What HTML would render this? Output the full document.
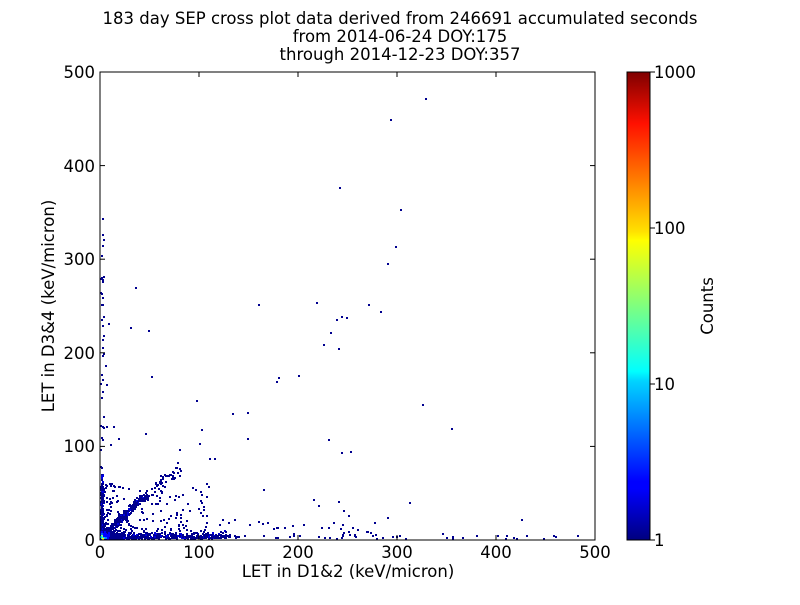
<!DOCTYPE html>
<html><head><meta charset="utf-8"><style>
html,body{margin:0;padding:0;background:#fff}
svg text{font-family:"DejaVu Sans","Liberation Sans",sans-serif;fill:#000}
</style></head><body>
<svg id="s" width="800" height="600" xmlns="http://www.w3.org/2000/svg">
<defs>
<linearGradient id="jet" x1="0" y1="1" x2="0" y2="0">
<stop offset="0" stop-color="#00007f"/>
<stop offset="0.11" stop-color="#0000ff"/>
<stop offset="0.125" stop-color="#0000ff"/>
<stop offset="0.34" stop-color="#00d4ff"/>
<stop offset="0.36" stop-color="#0ff"/>
<stop offset="0.5" stop-color="#7fff7f"/>
<stop offset="0.64" stop-color="#ff0"/>
<stop offset="0.66" stop-color="#ffe000"/>
<stop offset="0.89" stop-color="#ff1000"/>
<stop offset="1" stop-color="#7f0000"/>
</linearGradient>
</defs>
<rect width="800" height="600" fill="#fff"/>
<text x="400" y="24" font-size="16.5" text-anchor="middle">183 day SEP cross plot data derived from 246691 accumulated seconds</text>
<text x="400" y="42" font-size="16.5" text-anchor="middle">from 2014-06-24 DOY:175</text>
<text x="400" y="60" font-size="16.5" text-anchor="middle">through 2014-12-23 DOY:357</text>
<g id="pts"></g>
<rect x="100" y="72" width="495" height="468" fill="none" stroke="#000" stroke-width="1"/>
<g id="ax" stroke="#000" stroke-width="1"></g>
<g font-size="16.5">
<text x="100" y="558" text-anchor="middle">0</text>
<text x="199" y="558" text-anchor="middle">100</text>
<text x="298" y="558" text-anchor="middle">200</text>
<text x="397" y="558" text-anchor="middle">300</text>
<text x="496" y="558" text-anchor="middle">400</text>
<text x="595" y="558" text-anchor="middle">500</text>
<text x="95" y="546" text-anchor="end">0</text>
<text x="95" y="452" text-anchor="end">100</text>
<text x="95" y="359" text-anchor="end">200</text>
<text x="95" y="265" text-anchor="end">300</text>
<text x="95" y="172" text-anchor="end">400</text>
<text x="95" y="78" text-anchor="end">500</text>
</g>
<text x="348" y="577" font-size="16.5" text-anchor="middle">LET in D1&amp;2 (keV/micron)</text>
<text transform="translate(54,306) rotate(-90)" font-size="16.5" text-anchor="middle">LET in D3&amp;4 (keV/micron)</text>
<rect x="627" y="72" width="23" height="468" fill="url(#jet)" stroke="#000"/>
<g stroke="#000"><line x1="650" y1="540" x2="655" y2="540"/><line x1="650" y1="384" x2="655" y2="384"/><line x1="650" y1="228" x2="655" y2="228"/><line x1="650" y1="72" x2="655" y2="72"/></g>
<g font-size="16.5">
<text x="654" y="546">1</text><text x="654" y="390">10</text><text x="654" y="234">100</text><text x="654" y="78">1000</text>
</g>
<text transform="translate(713,306) rotate(-90)" font-size="16.5" text-anchor="middle">Counts</text>
</svg>
<script>
var NS="http://www.w3.org/2000/svg";
var ax=document.getElementById("ax");
function ln(a,b,c,d){var l=document.createElementNS(NS,"line");l.setAttribute("x1",a);l.setAttribute("y1",b);l.setAttribute("x2",c);l.setAttribute("y2",d);ax.appendChild(l);}
for(var i=0;i<=5;i++){var x=100+i*99;ln(x,540,x,535);ln(x,72,x,77);var y=540-i*93.6;ln(100,y,105,y);ln(595,y,590,y);}
var g=document.getElementById("pts");
var seed=12345;function r(){seed=(seed*16807)%2147483647;return seed/2147483647;}
function px(u,v,c){var e=document.createElementNS(NS,"rect");
var X=100+u*0.99,Y=540-v*0.936;e.setAttribute("x",Math.round(X));e.setAttribute("y",Math.round(Y-2));e.setAttribute("width",2);e.setAttribute("height",2);e.setAttribute("fill",c||"#00008f");g.appendChild(e);}
var i,u,v;
for(i=0;i<500;i++){u=Math.pow(r(),2.2)*130;v=r()*3*(1+r()*2);px(u,v,r()<0.2?"#0000e0":"#00008f");}
for(i=0;i<70;i++){u=Math.pow(r(),1.3)*500;v=r()*4;px(u,v);}
for(i=0;i<40;i++){u=Math.pow(r(),1.5)*300;v=r()*20;px(u,v);}
for(i=0;i<200;i++){u=r()*3;v=Math.pow(r(),2.2)*70;px(u,v,r()<0.2?"#0000e0":"#00008f");}
for(i=0;i<40;i++){u=r()*3;v=Math.pow(r(),1.4)*340;px(u,v);}
for(i=0;i<350;i++){var t=Math.pow(r(),1.6)*45;u=t*0.95+ (r()-0.5)*6;v=t+(r()-0.5)*6;if(u<0)u=0;if(v<0)v=0;px(u,v,r()<0.15?"#0000e0":"#00008f");}
for(i=0;i<60;i++){var t=40+r()*45;u=t*0.95+(r()-0.5)*10;v=t*0.9+(r()-0.5)*12;px(u,v);}
for(i=0;i<250;i++){u=Math.pow(r(),2)*110;v=Math.pow(r(),2)*60;px(u,v);}
for(i=0;i<40;i++){u=r()*8;v=r()*8;px(u,v,"#0000ff");}
px(1,1,"#40ffb0");px(3,1,"#00c0ff");px(1,3,"#80ff80");px(2,0,"#ffff00");px(0,2,"#00e0ff");px(5,1,"#0080ff");px(1,5,"#0060ff");
var iso=[[293,448],[328,470],[241,375],[303,352],[298,312],[290,294],[35,268],[218,252],[271,250],[160,250],[283,242],[243,237],[248,236],[238,234],[232,220],[225,207],[240,203],[30,225],[48,222],[200,174],[180,172],[178,168],[52,173],[97,147],[133,134],[148,135],[325,143],[355,117],[148,107],[230,106],[243,92],[253,93],[110,86],[115,85],[100,102],[102,116],[10,100],[312,38],[240,40],[425,20],[290,22],[220,35],[245,30],[250,25],[255,12],[260,10],[270,8],[345,5],[380,3],[430,3],[460,2],[165,52],[215,42],[2,342],[2,325],[2,275],[2,258],[2,213],[8,230],[5,185],[6,165],[3,130],[6,120],[107,25],[120,15],[135,20],[150,15],[90,30],[70,45],[60,60],[80,95],[45,112],[13,120],[18,107],[75,65],[205,15],[195,5],[230,12],[244,15],[250,7]];
iso.forEach(function(p){px(p[0],p[1]);});
</script>
</body></html>
